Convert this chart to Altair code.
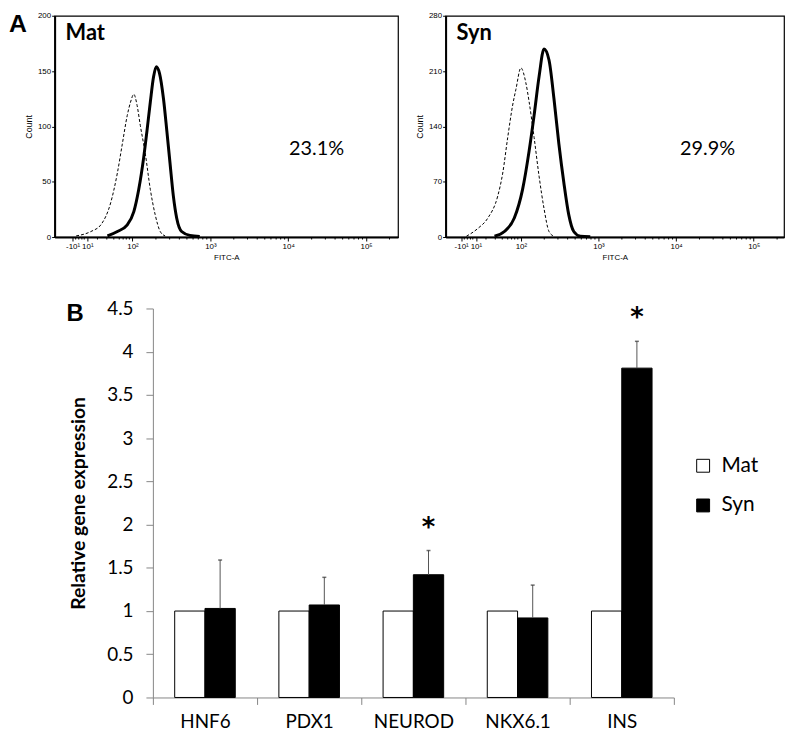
import altair as alt
import pandas as pd

# ---------------- Panel A: flow cytometry histograms ----------------
# x = position on the (biexponential) FITC-A axis in decade units, y = count
mat_ctrl_x = [1.276, 1.466, 1.593, 1.720, 1.806, 1.869, 1.933, 1.975, 2.017, 2.059, 2.100, 2.165, 2.229, 2.292, 2.356, 2.419]
mat_ctrl_y = [1, 5, 11, 31, 58, 84, 110, 122, 129, 119, 101, 75, 43, 20, 5, 1]
mat_stain_x = [1.678, 1.806, 1.933, 2.017, 2.080, 2.144, 2.186, 2.229, 2.271, 2.305, 2.347, 2.398, 2.441, 2.483, 2.525, 2.568, 2.631, 2.737, 2.864]
mat_stain_y = [1, 5, 11, 23, 43, 72, 96, 122, 145, 154, 148, 125, 96, 66, 37, 17, 5, 1.5, 0.5]

syn_ctrl_x = [1.298, 1.447, 1.574, 1.702, 1.766, 1.830, 1.894, 1.936, 2.000, 2.064, 2.106, 2.170, 2.234, 2.298, 2.362, 2.426]
syn_ctrl_y = [1, 11, 24, 52, 81, 126, 167, 187, 214, 195, 171, 126, 77, 36, 7, 1]
syn_stain_x = [1.660, 1.787, 1.915, 2.021, 2.106, 2.170, 2.234, 2.298, 2.362, 2.426, 2.489, 2.553, 2.617, 2.681, 2.766, 2.894]
syn_stain_y = [1, 7, 24, 60, 109, 154, 203, 238, 224, 175, 118, 69, 28, 7, 1, 0.4]

fitc_tick_values = [1.23, 1.42, 2, 3, 4, 5]
fitc_tick_labels = ["-10¹", "10¹", "10²", "10³", "10⁴", "10⁵"]
fitc_minor_ticks = [1.27, 1.31, 1.35, 1.38, 1.55, 1.67, 1.76, 1.83, 1.88, 1.92, 1.96,
                    2.301, 2.477, 2.602, 2.699, 2.778, 2.845, 2.903, 2.954,
                    3.301, 3.477, 3.602, 3.699, 3.778, 3.845, 3.903, 3.954,
                    4.301, 4.477, 4.602, 4.699, 4.778, 4.845, 4.903, 4.954,
                    5.301]

mat_count_ticks = [0, 50, 100, 150, 200]
syn_count_ticks = [0, 70, 140, 210, 280]
mat_pct = "23.1%"
syn_pct = "29.9%"

# ---------------- Panel B: relative gene expression ----------------
genes = ["HNF6", "PDX1", "NEUROD", "NKX6.1", "INS"]
mat_expr = [1, 1, 1, 1, 1]
syn_expr = [1.03, 1.07, 1.42, 0.92, 3.81]
syn_upper = [1.59, 1.39, 1.70, 1.30, 4.12]
significant = ["NEUROD", "INS"]
expr_ticks = [0, 0.5, 1, 1.5, 2, 2.5, 3, 3.5, 4, 4.5]

FLOW_FONT = "Liberation Sans"
BAR_FONT = "Lato"


def label_expr(values, labels):
    parts = [f"abs(datum.value - {v}) < 0.01 ? '{l}'" for v, l in zip(values, labels)]
    return " : ".join(parts) + " : ''"


def spacer(x, y, baseline):
    return alt.Chart(pd.DataFrame({"t": ["."]})).mark_text(
        color="white", fontSize=8, align="left", baseline=baseline
    ).encode(text="t:N", x=alt.value(x), y=alt.value(y))


def flow_panel(ctrl_x, ctrl_y, st_x, st_y, ymax, yticks, xdom, w, h, name, pct, extra):
    df = pd.DataFrame({
        "fitc": ctrl_x + st_x,
        "count": ctrl_y + st_y,
        "stain": ["Isotype"] * len(ctrl_x) + ["Sample"] * len(st_x),
    })
    xs = alt.Scale(domain=xdom, nice=False, zero=False)
    ys = alt.Scale(domain=[0, ymax], nice=False, zero=True)
    xax = alt.Axis(values=fitc_tick_values, labelExpr=label_expr(fitc_tick_values, fitc_tick_labels),
                   labelFont=FLOW_FONT, labelFontSize=8, labelColor="black", labelOverlap=False,
                   labelFlush=False, labelPadding=2, tickColor="black", tickSize=4, tickWidth=1,
                   domainColor="black", domainWidth=2, grid=False,
                   titleFont=FLOW_FONT, titleFontSize=8, titleFontWeight="normal", titleColor="black",
                   titlePadding=3)
    yax = alt.Axis(values=yticks, format="d", labelFont=FLOW_FONT, labelFontSize=8, labelColor="black",
                   labelPadding=1, tickColor="black", tickSize=3, tickWidth=1,
                   domainColor="black", domainWidth=2, grid=False,
                   titleFont=FLOW_FONT, titleFontSize=9, titleFontWeight="normal", titleColor="black",
                   titlePadding=4)
    base = alt.Chart(df)
    ctrl = base.transform_filter(alt.datum.stain == "Isotype").mark_line(
        color="black", strokeWidth=1, strokeDash=[3, 2], interpolate="monotone"
    ).encode(x=alt.X("fitc:Q", scale=xs, axis=xax, title="FITC-A"),
             y=alt.Y("count:Q", scale=ys, axis=yax, title="Count"))
    samp = base.transform_filter(alt.datum.stain == "Sample").mark_line(
        color="black", strokeWidth=3, interpolate="monotone"
    ).encode(x=alt.X("fitc:Q", scale=xs, title="FITC-A"),
             y=alt.Y("count:Q", scale=ys, title="Count"))
    minor = alt.Chart(pd.DataFrame({"fitc": fitc_minor_ticks})).mark_rule(
        color="black", strokeWidth=1
    ).encode(x=alt.X("fitc:Q", scale=xs, title="FITC-A"), y=alt.value(h), y2=alt.value(h + 2.5))
    name_txt = alt.Chart(pd.DataFrame({"t": [name]})).mark_text(
        font=BAR_FONT, fontWeight="bold", fontSize=22, align="left", baseline="alphabetic", color="black"
    ).encode(text="t:N", x=alt.value(11), y=alt.value(24))
    pct_txt = alt.Chart(pd.DataFrame({"t": [pct]})).mark_text(
        font=BAR_FONT, fontSize=20, align="center", baseline="alphabetic", color="black"
    ).encode(text="t:N", x=alt.value(264), y=alt.value(140))
    layers = [ctrl, samp, minor, name_txt, pct_txt] + extra
    return alt.layer(*layers).properties(
        width=w, height=h, view=alt.ViewBackground(stroke="black", strokeWidth=1.2)
    )


H_TOP = 223
letter_a = alt.Chart(pd.DataFrame({"t": ["A"]})).mark_text(
    font=FLOW_FONT, fontWeight="bold", fontSize=25, align="left", baseline="top", color="black"
).encode(text="t:N", x=alt.value(-46), y=alt.value(-4))

mat = flow_panel(mat_ctrl_x, mat_ctrl_y, mat_stain_x, mat_stain_y, 200, mat_count_ticks,
                 [1.0, 5.41], 346, H_TOP, "Mat", mat_pct,
                 [letter_a, spacer(10, H_TOP + 27, "bottom")])
syn = flow_panel(syn_ctrl_x, syn_ctrl_y, syn_stain_x, syn_stain_y, 280, syn_count_ticks,
                 [1.03, 5.39], 341, H_TOP, "Syn", syn_pct,
                 [spacer(-40, -4, "top")])

# ---------------- bar chart ----------------
bars_df = pd.DataFrame({
    "gene": genes * 2,
    "group": ["Mat"] * len(genes) + ["Syn"] * len(genes),
    "value": mat_expr + syn_expr,
})
err_df = pd.DataFrame({
    "gene": genes,
    "group": ["Syn"] * len(genes),
    "value": syn_expr,
    "upper": syn_upper,
    "star": ["*" if g in significant else "" for g in genes],
})

# plot area starts under the flow panels' left edge; the axis sits 99 px inside it
AX_IN = 99
BW, BH = 624, 392
xsc = alt.Scale(domain=genes, paddingInner=0, paddingOuter=0, range=[AX_IN, BW])
xoff = alt.XOffset("group:N", scale=alt.Scale(domain=["Mat", "Syn"], paddingInner=0, paddingOuter=0.72))
ytitle = "Relative gene expression"
ysc = alt.Scale(domain=[0, 4.5], nice=False)

bars = alt.Chart(bars_df).mark_bar(stroke="black", strokeWidth=1).encode(
    x=alt.X("gene:N", scale=xsc, axis=alt.Axis(
        title=None, labelAngle=0, tickBand="extent", labelFont=BAR_FONT, labelFontSize=19,
        labelColor="black", labelPadding=8, tickSize=7, tickColor="#868686", domainColor="#868686")),
    xOffset=xoff,
    y=alt.Y("value:Q", scale=ysc, title=ytitle, axis=alt.Axis(
        values=expr_ticks, format="~g", offset=-AX_IN, labelFont=BAR_FONT, labelFontSize=19,
        labelColor="black", labelPadding=13, tickSize=7, tickColor="#868686", domainColor="#868686",
        grid=False, titleFont=BAR_FONT, titleFontSize=19.5, titleFontWeight="bold", titleColor="black",
        titlePadding=18)),
    color=alt.Color("group:N", scale=alt.Scale(domain=["Mat", "Syn"], range=["white", "black"]),
                    legend=alt.Legend(title=None, orient="none", legendX=643, legendY=148, padding=0,
                                      symbolType="square", symbolSize=169, symbolStrokeColor="black",
                                      symbolStrokeWidth=1, labelFont=BAR_FONT, labelFontSize=21,
                                      labelColor="black", labelOffset=8, rowPadding=18)),
)
err = alt.Chart(err_df).mark_rule(color="#555555", strokeWidth=1).encode(
    x=alt.X("gene:N", scale=xsc), xOffset=xoff,
    y=alt.Y("value:Q", scale=ysc, title=ytitle), y2="upper:Q")
cap = alt.Chart(err_df).mark_tick(color="#333333", thickness=1.5, size=4, orient="horizontal").encode(
    x=alt.X("gene:N", scale=xsc), xOffset=xoff, y=alt.Y("upper:Q", scale=ysc, title=ytitle))
stars = alt.Chart(err_df).mark_text(font="DejaVu Sans", fontWeight="bold", fontSize=26,
                                    baseline="alphabetic", dy=-15, color="black").encode(
    x=alt.X("gene:N", scale=xsc), xOffset=xoff, y=alt.Y("upper:Q", scale=ysc, title=ytitle),
    text="star:N")
letter_b = alt.Chart(pd.DataFrame({"t": ["B"]})).mark_text(
    font=FLOW_FONT, fontWeight="bold", fontSize=24, align="left", baseline="alphabetic", color="black"
).encode(text="t:N", x=alt.value(12), y=alt.value(13))

bar_chart = alt.layer(bars, err, cap, stars, letter_b, spacer(200, -41, "top")).properties(
    width=BW, height=BH)

top = alt.hconcat(mat, syn, spacing=6)
chart = (alt.vconcat(top, bar_chart, spacing=3)
         .resolve_scale(color="independent")
         .properties(padding=0)
         .configure_view(stroke=None))

chart.save("out.html", embed_options={"renderer": "svg", "actions": False})
